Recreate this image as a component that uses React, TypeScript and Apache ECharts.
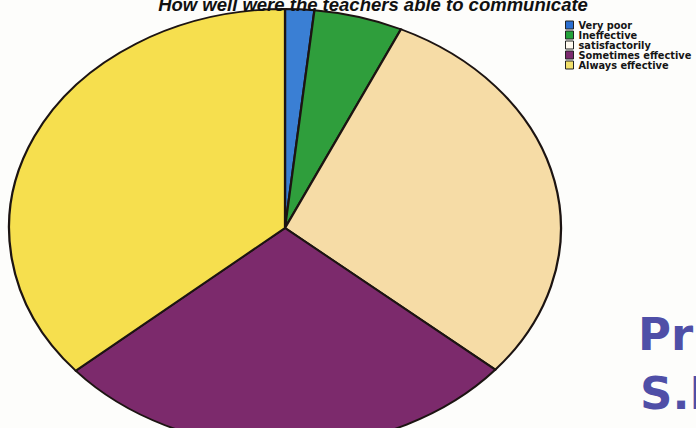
import React, { useEffect, useRef } from "react";
import * as echarts from "echarts";

const categories = ["Very poor", "Ineffective", "satisfactorily", "Sometimes effective", "Always effective"];
const values = [1.7, 5.2, 29.3, 27.5, 36.3];
const colors = ["#3a7fd4", "#2f9e3c", "#f6dca6", "#7c2a6c", "#f6df4e"];
const legendColors = ["#2a6ed0", "#23a33a", "#fffaf0", "#7b2a6e", "#f2e06a"];
const titleText = "How well were the teachers able to communicate";

export default function App() {
  const ref = useRef<HTMLDivElement>(null);
  useEffect(() => {
    document.body.style.margin = "0";
    if (!ref.current) return;
    const chart = echarts.init(ref.current, null, { renderer: "svg" });
    const total = values.reduce((a, b) => a + b, 0);
    const cx = 285;
    const cy = 228;
    const rx = 276;
    const ry = 219;
    const series = categories.map((name, i) => {
      const before = values.slice(0, i).reduce((a, b) => a + b, 0);
      return {
        type: "custom",
        name,
        coordinateSystem: "none",
        data: [[values[i]]],
        itemStyle: { color: legendColors[i] },
        renderItem: (params: any, api: any) => {
          const v = api.value(0);
          const start = -Math.PI / 2 + (before / total) * Math.PI * 2;
          const end = start + (v / total) * Math.PI * 2;
          return {
            type: "sector",
            x: cx,
            y: cy,
            scaleX: rx / ry,
            scaleY: 1,
            shape: { cx: 0, cy: 0, r: ry, r0: 0, startAngle: start, endAngle: end, clockwise: true },
            style: { fill: colors[i], stroke: "#1c1412", lineWidth: 1.8, strokeNoScale: true },
          };
        },
      };
    });
    chart.setOption({
      animation: false,
      backgroundColor: "#fdfdfb",
      title: {
        text: titleText,
        left: 368,
        textAlign: "center",
        top: -10,
        textStyle: {
          fontFamily: "Liberation Sans",
          fontSize: 18.5,
          fontWeight: "bold",
          fontStyle: "italic",
          color: "#111",
        },
      },
      legend: {
        orient: "vertical",
        left: 560,
        top: 15,
        itemWidth: 8,
        itemHeight: 8,
        itemGap: 0,
        itemTextGap: 8,
        icon: "rect",
        data: categories.map((c, i) => ({ name: c, itemStyle: { color: legendColors[i], borderColor: "#222", borderWidth: 1 } })),
        textStyle: {
          fontFamily: "DejaVu Sans",
          fontSize: 9.8,
          fontWeight: "bold",
          color: "#151515",
          lineHeight: 9.7,
        },
      },
      graphic: [
        {
          type: "text",
          x: 638,
          y: 357,
          style: {
            text: "Pri",
            fontFamily: "DejaVu Sans",
            fontWeight: "bold",
            fontSize: 45,
            fill: "#2f2f98",
            opacity: 0.85,
            verticalAlign: "bottom",
          },
        },
        {
          type: "text",
          x: 640,
          y: 416,
          style: {
            text: "S.I",
            fontFamily: "DejaVu Sans",
            fontWeight: "bold",
            fontSize: 45,
            fill: "#2f2f98",
            opacity: 0.85,
            verticalAlign: "bottom",
          },
        },
      ],
      series,
    });
    return () => chart.dispose();
  }, []);
  return <div ref={ref} style={{ width: 696, height: 428 }} />;
}
